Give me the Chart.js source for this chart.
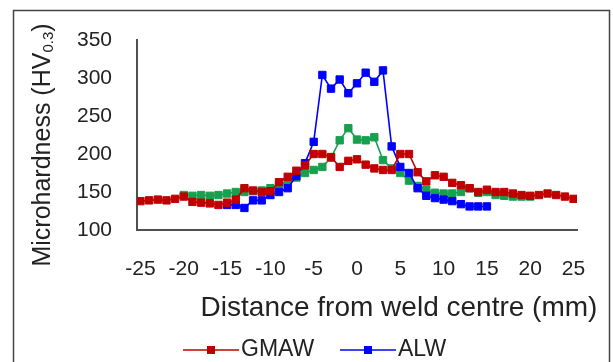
<!DOCTYPE html>
<html>
<head>
<meta charset="utf-8">
<title>Microhardness profile</title>
<script src="https://cdn.jsdelivr.net/npm/chart.js@4.4.1/dist/chart.umd.min.js"></script>
<style>
  html, body { margin: 0; padding: 0; background: #fff; overflow: hidden; }
  canvas { display: block; }
</style>
</head>
<body>
<canvas id="hardnessChart" width="613" height="362"></canvas>
<script>
const FONT = '"Liberation Sans", Arial, sans-serif';
const TEXT_COLOR = '#222';

// distance from weld centre (mm) and microhardness (HV0.3)
const gmawX = [-25, -24, -23, -22, -21, -20, -19, -18, -17, -16, -15, -14, -13, -12, -11, -10, -9, -8, -7, -6, -5, -4, -3, -2, -1, 0,
  1, 2, 3, 4, 5, 6, 7, 8, 9, 10, 11, 12, 13, 14, 15, 16, 17, 18, 19, 20, 21, 22, 23, 24, 25];
const gmawHV = [138, 139, 140, 139, 141, 144, 137, 136, 135, 133, 136, 140, 155, 152, 150, 151, 163, 170, 178, 185, 200, 200, 196, 183, 191, 193,
  186, 181, 179, 179, 200, 200, 176, 164, 172, 170, 162, 159, 155, 150, 153, 150, 150, 148, 146, 145, 146, 148, 146, 144, 141];

const alwX = [-15, -14, -13, -12, -11, -10, -9, -8, -7, -6, -5, -4, -3, -2, -1, 0,
  1, 2, 3, 4, 5, 6, 7, 8, 9, 10, 11, 12, 13, 14, 15];
const alwHV = [133, 133, 129, 139, 139, 146, 150, 155, 171, 188, 216, 304, 286, 298, 280, 293,
  307, 295, 310, 210, 183, 175, 155, 145, 142, 140, 138, 134, 131, 131, 131];

const hybridX = [-20, -19, -18, -17, -16, -15, -14, -13, -12, -11, -10, -9, -8, -7, -6, -5, -4, -3, -2, -1, 0,
  1, 2, 3, 4, 5, 6, 7, 8, 9, 10, 11, 12, 13, 14, 15, 16, 17, 18, 19, 20];
const hybridHV = [146, 145, 146, 145, 146, 148, 150, 150, 151, 152, 155, 159, 164, 169, 175, 179, 183, 195, 218, 234, 219,
  218, 222, 192, 181, 175, 165, 158, 153, 149, 148, 148, 150, 155, 149, 150, 146, 145, 144, 144, 144];

const xTicks = [-25, -20, -15, -10, -5, 0, 5, 10, 15, 20, 25];

const RED = '#c00000';
const BLUE = '#0000ff';
const GREEN = '#17a04e';

const toPoints = (xs, ys) => xs.map((x, i) => ({ x: x, y: ys[i] }));

const makeSeries = (label, xs, ys, color) => ({
  label: label,
  data: toPoints(xs, ys),
  borderColor: color,
  backgroundColor: color,
  borderWidth: 1.6,
  pointStyle: 'rect',
  pointRadius: 5.2,
  pointBorderWidth: 1,
  tension: 0,
});

// outer frame of the figure
const framePlugin = {
  id: 'frame',
  beforeDraw(chart) {
    const ctx = chart.ctx;
    ctx.save();
    ctx.fillStyle = '#fff';
    ctx.fillRect(0, 0, chart.width, chart.height);
    ctx.strokeStyle = '#444';
    ctx.lineWidth = 1.5;
    ctx.strokeRect(13.5, 10.5, 596, 420);
    ctx.restore();
  },
};

// axis titles (with subscript) and the line+marker legend
const labelsPlugin = {
  id: 'labels',
  afterDraw(chart) {
    const ctx = chart.ctx;
    ctx.save();
    ctx.fillStyle = TEXT_COLOR;
    ctx.textBaseline = 'middle';

    // y title, rotated
    ctx.save();
    ctx.translate(43, 145);
    ctx.rotate(-Math.PI / 2);
    const mainFont = '25px ' + FONT;
    const subFont = '15px ' + FONT;
    ctx.font = mainFont;
    const part1 = 'Microhardness (HV';
    const w1 = ctx.measureText(part1).width;
    const w3 = ctx.measureText(')').width;
    ctx.font = subFont;
    const w2 = ctx.measureText('0.3').width;
    let x = -(w1 + w2 + w3) / 2;
    ctx.textAlign = 'left';
    ctx.font = mainFont;
    ctx.fillText(part1, x, 0);
    x += w1;
    ctx.font = subFont;
    ctx.fillText('0.3', x, 6);
    x += w2;
    ctx.font = mainFont;
    ctx.fillText(')', x, 0);
    ctx.restore();

    // x title
    ctx.font = '28px ' + FONT;
    ctx.textAlign = 'center';
    ctx.fillText('Distance from weld centre (mm)', 399, 308);

    // legend entries
    const entries = [
      { text: 'GMAW', color: RED, x0: 183 },
      { text: 'ALW', color: BLUE, x0: 340 },
    ];
    const ly = 350;
    ctx.font = '23px ' + FONT;
    ctx.textAlign = 'left';
    entries.forEach((e) => {
      ctx.strokeStyle = e.color;
      ctx.fillStyle = e.color;
      ctx.lineWidth = 1.6;
      ctx.beginPath();
      ctx.moveTo(e.x0, ly);
      ctx.lineTo(e.x0 + 56, ly);
      ctx.stroke();
      ctx.fillRect(e.x0 + 24, ly - 4, 8, 8);
      ctx.fillStyle = TEXT_COLOR;
      ctx.fillText(e.text, e.x0 + 58, ly);
    });
    ctx.restore();
  },
};

const ctx = document.getElementById('hardnessChart');

new Chart(ctx, {
  type: 'line',
  data: {
    datasets: [
      makeSeries('GMAW', gmawX, gmawHV, RED),
      makeSeries('ALW', alwX, alwHV, BLUE),
      makeSeries('Hybrid', hybridX, hybridHV, GREEN),
    ],
  },
  options: {
    responsive: false,
    animation: false,
    layout: {
      padding: { left: 0, right: 36, top: 40, bottom: 0 },
    },
    plugins: {
      legend: { display: false },
      tooltip: { enabled: false },
    },
    scales: {
      x: {
        type: 'linear',
        min: -25.4,
        max: 25.4,
        afterBuildTicks: (scale) => {
          scale.ticks = xTicks.map((v) => ({ value: v }));
        },
        afterFit: (scale) => {
          scale.height = 132;
        },
        grid: { display: false, drawTicks: false },
        border: { display: true, color: '#505050', width: 2 },
        ticks: {
          padding: 27,
          color: TEXT_COLOR,
          font: { family: FONT, size: 21 },
          maxRotation: 0,
          autoSkip: false,
        },
      },
      y: {
        min: 100,
        max: 350,
        afterFit: (scale) => {
          scale.width = 137;
        },
        grid: { display: false, drawTicks: false },
        border: { display: true, color: '#505050', width: 2 },
        ticks: {
          stepSize: 50,
          padding: 25,
          color: TEXT_COLOR,
          font: { family: FONT, size: 21 },
        },
      },
    },
  },
  plugins: [framePlugin, labelsPlugin],
});
</script>
</body>
</html>
